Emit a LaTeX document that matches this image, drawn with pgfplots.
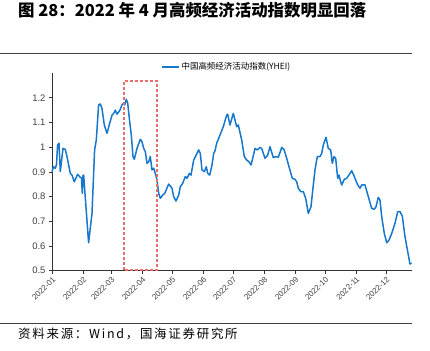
\documentclass[border=0pt]{standalone}
\usepackage{fontspec}
\setmainfont{Liberation Sans}
\newfontfamily\cjk{Noto Sans CJK SC}
\newfontfamily\cjksp[LetterSpace=14]{Noto Sans CJK SC}
\usepackage{pgfplots}
\pgfplotsset{compat=1.18}
\definecolor{lineblue}{RGB}{22,119,204}
\definecolor{boxred}{RGB}{232,110,110}
\definecolor{tickgray}{RGB}{64,64,64}
\begin{document}
\begin{tikzpicture}[x=1bp,y=1bp]
\useasboundingbox (0,0) rectangle (430,351);
\node[anchor=west,inner sep=0pt] at (18,341) {\fontsize{16.5}{17}\selectfont\cjk\bfseries 图 28：2022 年 4 月高频经济活动指数明显回落};
\draw[line width=0.8bp,black!75] (0,298) -- (412,298);
\draw[line width=0.8bp,black!75] (0,28) -- (412,28);
\node[anchor=west,inner sep=0pt] at (18,17) {\fontsize{12.5}{13}\selectfont\cjksp 资料来源：Wind，国海证券研究所};
\begin{axis}[
  at={(52bp,80.3bp)}, anchor=south west,
  scale only axis, width=360bp, height=197.6bp,
  xmin=0, xmax=360, ymin=0.5, ymax=1.3,
  axis x line*=bottom, axis y line*=left,
  axis line style={-, line width=0.8bp, black!80},
  xtick={0,31,59,90,120,151,181,212,243,273,304,334},
  xticklabels={2022-01,2022-02,2022-03,2022-04,2022-05,2022-06,2022-07,2022-08,2022-09,2022-10,2022-11,2022-12},
  ytick={0.5,0.6,0.7,0.8,0.9,1.0,1.1,1.2},
  /pgf/number format/assume math mode=true,
  tick align=outside, major tick length=3bp,
  tick style={line width=0.6bp, black!80},
  xticklabel style={rotate=45, anchor=north east, font=\fontsize{8}{9}\selectfont, text=tickgray, inner sep=1.5pt},
  yticklabel style={font=\fontsize{9.5}{10}\selectfont, text=tickgray},
  clip=false,
  legend style={at={(0.485,1.031)}, anchor=center, draw=none, fill=none, font=\fontsize{8.5}{9}\selectfont\cjk, inner sep=1pt},
]
\addplot[lineblue, line width=1.5bp, line join=round] coordinates {
(0,0.901)(1.6,0.921)(3.3,0.914)(4.5,0.93)(5.6,1.009)(7,1.016)(8.3,0.901)(11,0.995)(13.3,0.991)(15,0.962)
(18.3,0.894)(20,0.887)(22.3,0.860)(25.6,0.890)(28.3,0.878)(29.5,0.875)(30.3,0.813)(31,0.885)(31.7,0.887)(32.5,0.84)
(36.6,0.613)(40,0.732)(42.6,0.989)(44.3,1.029)(46.6,1.171)(48.3,1.175)(50,1.157)(52.3,1.090)(55,1.056)(57.7,1.097)
(60,1.130)(61.7,1.137)(63.3,1.150)(65,1.134)(67.7,1.148)(70,1.171)(71.7,1.178)(72.7,1.171)(74.3,1.194)(75.7,1.178)
(77.7,1.103)(79.3,1.049)(81,0.962)(82.3,0.951)(85,0.995)(88.3,1.032)(90,1.022)(91.7,0.995)(93.3,0.982)(95,0.935)
(96.7,0.941)(98.3,0.962)(100,0.908)(101.7,0.915)(103.3,0.894)(105,0.867)(106.7,0.813)(108.3,0.793)(110.7,0.806)(112.7,0.813)
(116.7,0.851)(120,0.834)(121.7,0.800)(124,0.782)(126.7,0.806)(128.3,0.840)(130.7,0.854)(133.3,0.881)(135,0.874)(137.3,0.894)
(139,0.887)(141.7,0.948)(145,0.975)(146.7,0.989)(148.3,0.975)(150,0.908)(152.3,0.901)(154.3,0.921)(155.7,0.894)(157.7,0.887)
(160,0.928)(161.7,0.975)(163,0.985)(164.7,1.016)(168,1.049)(171.3,1.083)(174.7,1.130)(175.7,1.133)(178,1.090)(181.3,1.137)
(184.7,1.083)(186.3,1.090)(189.7,1.029)(192.3,0.962)(194.7,0.948)(197,0.941)(199,0.928)(200.3,0.948)(203,0.995)(205.3,0.989)
(208,0.999)(209.7,0.995)(213,0.955)(215.7,0.968)(218,1.002)(221.3,0.958)(224,0.962)(226.3,0.959)(229.7,0.999)(232,0.991)
(234.7,0.955)(237,0.921)(240.3,0.874)(243,0.870)(244.7,0.860)(246.3,0.834)(248.7,0.820)(251.3,0.820)(253.7,0.793)(256.3,0.732)
(259,0.759)(261.3,0.847)(263,0.908)(265.3,0.962)(268,0.962)(269.7,0.975)(271.3,1.009)(274,1.040)(276.3,0.995)(278.7,0.989)
(280.3,0.935)(282,0.962)(283.7,0.955)(285.7,0.874)(287,0.887)(288,0.870)(289.7,0.847)(292.3,0.870)(294.7,0.874)(298,0.894)
(299.7,0.905)(302.3,0.881)(305.7,0.847)(308,0.834)(309.7,0.847)(313,0.847)(316.3,0.800)(319.7,0.752)(322.3,0.749)(324,0.759)
(326.3,0.797)(328,0.786)(329.7,0.719)(332.3,0.651)(334.7,0.613)(337,0.624)(339.7,0.651)(343,0.692)(345.7,0.739)(348,0.739)
(350.3,0.721)(353,0.638)(355.7,0.577)(358,0.527)(359.7,0.530)
};
\addlegendentry{中国高频经济活动指数(YHEI)}
\draw[boxred, line width=1.6bp, dash pattern=on 3bp off 2bp] (axis cs:72,0.503) rectangle (axis cs:105,1.269);
\end{axis}
\end{tikzpicture}
\end{document}
